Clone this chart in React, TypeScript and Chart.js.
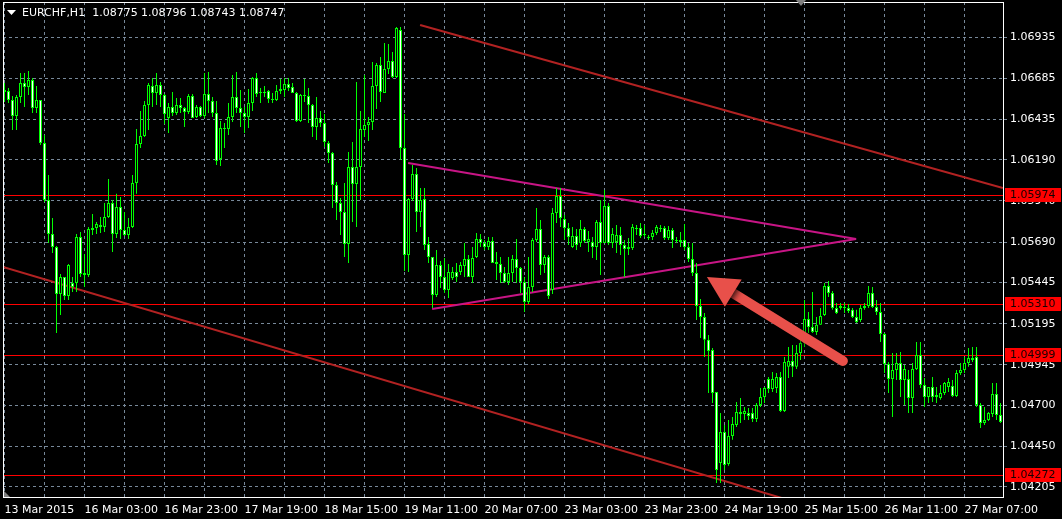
import React, { useEffect, useRef } from 'react';
import { Chart, registerables } from 'chart.js';

Chart.register(...registerables);

// ---- data (EURCHF, H1, bar 0 = 13 Mar 2015 07:00) ----
const openP = [
  1.06614, 1.06608, 1.06553, 1.06456, 1.06571, 1.06656, 1.06632, 1.06674, 1.06504, 1.06553,
  1.06292, 1.05946, 1.05740, 1.05661, 1.05376, 1.05479, 1.05363, 1.05442, 1.05442, 1.05721,
  1.05503, 1.05491, 1.05776, 1.05776, 1.05794, 1.05782, 1.05843, 1.05928, 1.05740, 1.05904,
  1.05764, 1.05734, 1.05782, 1.06049, 1.06286, 1.06335, 1.06523, 1.06638, 1.06595, 1.06644,
  1.06583, 1.06444, 1.06511, 1.06474, 1.06523, 1.06504, 1.06480, 1.06577, 1.06450, 1.06511,
  1.06456, 1.06589, 1.06547, 1.06474, 1.06195, 1.06383, 1.06377, 1.06450, 1.06571, 1.06504,
  1.06474, 1.06450, 1.06535, 1.06687, 1.06595, 1.06602, 1.06608, 1.06559, 1.06553, 1.06608,
  1.06614, 1.06650, 1.06632, 1.06595, 1.06426, 1.06583, 1.06577, 1.06523, 1.06389, 1.06444,
  1.06413, 1.06292, 1.06231, 1.06037, 1.05928, 1.05873, 1.05679, 1.06146, 1.06043, 1.06146,
  1.06371, 1.06401, 1.06419, 1.06638, 1.06765, 1.06595, 1.06741, 1.06790, 1.06693, 1.06978,
  1.06262, 1.05612, 1.05952, 1.06104, 1.05873, 1.05952, 1.05679, 1.05600, 1.05370, 1.05552,
  1.05479, 1.05400, 1.05473, 1.05509, 1.05509, 1.05546, 1.05588, 1.05479, 1.05600, 1.05709,
  1.05685, 1.05661, 1.05697, 1.05558, 1.05558, 1.05503, 1.05448, 1.05503, 1.05588, 1.05533,
  1.05448, 1.05327, 1.05418, 1.05703, 1.05770, 1.05552, 1.05600, 1.05400, 1.05867, 1.05970,
  1.05831, 1.05776, 1.05661, 1.05727, 1.05685, 1.05770, 1.05691, 1.05691, 1.05661, 1.05812,
  1.05685, 1.05910, 1.05685, 1.05691, 1.05734, 1.05673, 1.05648, 1.05654, 1.05776, 1.05776,
  1.05734, 1.05721, 1.05721, 1.05746, 1.05776, 1.05776, 1.05715, 1.05764, 1.05703, 1.05691,
  1.05703, 1.05661, 1.05588, 1.05503, 1.05303, 1.05236, 1.05097, 1.05036, 1.04781, 1.04350,
  1.04538, 1.04344, 1.04514, 1.04580, 1.04659, 1.04647, 1.04653, 1.04653, 1.04617, 1.04702,
  1.04750, 1.04859, 1.04799, 1.04805, 1.04872, 1.04665, 1.04933, 1.04969, 1.04933, 1.05017,
  1.05078, 1.05224, 1.05175, 1.05145, 1.05188, 1.05248, 1.05424, 1.05382, 1.05291, 1.05291,
  1.05297, 1.05291, 1.05279, 1.05236, 1.05218, 1.05291, 1.05303, 1.05382, 1.05297, 1.05266,
  1.05133, 1.04951, 1.04859, 1.04914, 1.04957, 1.04853, 1.04859, 1.04744, 1.04920, 1.05005,
  1.04823, 1.04750, 1.04811, 1.04762, 1.04744, 1.04775, 1.04811, 1.04817, 1.04756, 1.04896,
  1.04914, 1.04957, 1.04987, 1.04993, 1.04702, 1.04592, 1.04611, 1.04647, 1.04768, 1.04641,
];

const highP = [
  1.06656, 1.06626, 1.06577, 1.06583, 1.06717, 1.06717, 1.06729, 1.06687, 1.06638, 1.06553,
  1.06341, 1.06098, 1.05837, 1.05667, 1.05497, 1.05479, 1.05558, 1.05479, 1.05740, 1.05752,
  1.05618, 1.05782, 1.05861, 1.05812, 1.05843, 1.05928, 1.06073, 1.05946, 1.05984, 1.05964,
  1.05873, 1.05837, 1.06098, 1.06377, 1.06486, 1.06547, 1.06656, 1.06687, 1.06717, 1.06662,
  1.06589, 1.06535, 1.06602, 1.06565, 1.06565, 1.06511, 1.06589, 1.06589, 1.06523, 1.06517,
  1.06717, 1.06723, 1.06571, 1.06547, 1.06426, 1.06413, 1.06535, 1.06705, 1.06723, 1.06614,
  1.06511, 1.06620, 1.06693, 1.06717, 1.06626, 1.06638, 1.06614, 1.06595, 1.06644, 1.06681,
  1.06687, 1.06687, 1.06656, 1.06602, 1.06589, 1.06681, 1.06626, 1.06529, 1.06571, 1.06486,
  1.06468, 1.06304, 1.06237, 1.06055, 1.05958, 1.06049, 1.06237, 1.06298, 1.06662, 1.06486,
  1.06705, 1.06450, 1.06784, 1.06778, 1.06814, 1.06899, 1.06893, 1.06844, 1.06996, 1.06996,
  1.06468, 1.05958, 1.06158, 1.06140, 1.06019, 1.06019, 1.05721, 1.05600, 1.05642, 1.05576,
  1.05594, 1.05558, 1.05540, 1.05564, 1.05570, 1.05685, 1.05612, 1.05661, 1.05746, 1.05740,
  1.05703, 1.05721, 1.05721, 1.05630, 1.05600, 1.05540, 1.05600, 1.05612, 1.05709, 1.05540,
  1.05479, 1.05600, 1.05715, 1.05897, 1.05825, 1.05612, 1.05612, 1.05897, 1.06019, 1.06019,
  1.05855, 1.05806, 1.05782, 1.05770, 1.05825, 1.05782, 1.05758, 1.05721, 1.05825, 1.05946,
  1.06007, 1.05928, 1.05776, 1.05794, 1.05782, 1.05703, 1.05715, 1.05800, 1.05794, 1.05806,
  1.05794, 1.05734, 1.05764, 1.05794, 1.05794, 1.05788, 1.05788, 1.05776, 1.05721, 1.05752,
  1.05800, 1.05685, 1.05685, 1.05564, 1.05345, 1.05260, 1.05127, 1.05048, 1.04781, 1.04653,
  1.04580, 1.04611, 1.04629, 1.04720, 1.04744, 1.04690, 1.04684, 1.04684, 1.04714, 1.04805,
  1.04811, 1.04872, 1.04902, 1.04896, 1.04902, 1.04993, 1.05054, 1.05066, 1.05066, 1.05097,
  1.05339, 1.05266, 1.05388, 1.05236, 1.05291, 1.05442, 1.05454, 1.05394, 1.05321, 1.05321,
  1.05321, 1.05315, 1.05291, 1.05279, 1.05309, 1.05321, 1.05424, 1.05418, 1.05339, 1.05321,
  1.05139, 1.04963, 1.05017, 1.05017, 1.05023, 1.04945, 1.04914, 1.04957, 1.05084, 1.05084,
  1.04865, 1.04811, 1.04872, 1.04811, 1.04823, 1.04841, 1.04865, 1.04853, 1.04914, 1.04957,
  1.04993, 1.05048, 1.05054, 1.05054, 1.04714, 1.04690, 1.04659, 1.04835, 1.04835, 1.04714,
];

const lowP = [
  1.06541, 1.06535, 1.06371, 1.06371, 1.06535, 1.06511, 1.06583, 1.06474, 1.06474, 1.06280,
  1.05934, 1.05685, 1.05624, 1.05139, 1.05248, 1.05339, 1.05339, 1.05388, 1.05388, 1.05479,
  1.05418, 1.05479, 1.05734, 1.05740, 1.05746, 1.05752, 1.05837, 1.05630, 1.05715, 1.05709,
  1.05727, 1.05709, 1.05776, 1.05984, 1.06262, 1.06328, 1.06371, 1.06511, 1.06523, 1.06511,
  1.06407, 1.06353, 1.06456, 1.06462, 1.06474, 1.06389, 1.06468, 1.06444, 1.06444, 1.06450,
  1.06444, 1.06474, 1.06450, 1.06158, 1.06152, 1.06262, 1.06341, 1.06419, 1.06474, 1.06389,
  1.06353, 1.06383, 1.06486, 1.06571, 1.06535, 1.06571, 1.06535, 1.06535, 1.06547, 1.06589,
  1.06571, 1.06608, 1.06595, 1.06419, 1.06419, 1.06541, 1.06413, 1.06328, 1.06310, 1.06389,
  1.06268, 1.06171, 1.05897, 1.05825, 1.05734, 1.05600, 1.05564, 1.05812, 1.05782, 1.05946,
  1.06328, 1.06304, 1.06371, 1.06498, 1.06541, 1.06595, 1.06711, 1.06687, 1.06687, 1.06189,
  1.05515, 1.05509, 1.05940, 1.05752, 1.05782, 1.05642, 1.05564, 1.05291, 1.05357, 1.05412,
  1.05382, 1.05351, 1.05460, 1.05448, 1.05491, 1.05479, 1.05479, 1.05442, 1.05594, 1.05661,
  1.05642, 1.05642, 1.05564, 1.05460, 1.05442, 1.05442, 1.05430, 1.05448, 1.05442, 1.05382,
  1.05266, 1.05315, 1.05388, 1.05691, 1.05491, 1.05503, 1.05345, 1.05376, 1.05806, 1.05782,
  1.05703, 1.05673, 1.05654, 1.05642, 1.05661, 1.05685, 1.05630, 1.05594, 1.05582, 1.05491,
  1.05685, 1.05673, 1.05654, 1.05624, 1.05612, 1.05479, 1.05612, 1.05642, 1.05734, 1.05715,
  1.05721, 1.05703, 1.05703, 1.05734, 1.05752, 1.05703, 1.05703, 1.05654, 1.05685, 1.05661,
  1.05642, 1.05570, 1.05485, 1.05218, 1.05109, 1.04993, 1.04775, 1.04714, 1.04228, 1.04228,
  1.04307, 1.04332, 1.04490, 1.04568, 1.04592, 1.04611, 1.04611, 1.04598, 1.04598, 1.04690,
  1.04714, 1.04775, 1.04781, 1.04775, 1.04659, 1.04659, 1.04865, 1.04872, 1.04920, 1.04975,
  1.05054, 1.05139, 1.05139, 1.05127, 1.05188, 1.05242, 1.05357, 1.05279, 1.05254, 1.05279,
  1.05260, 1.05260, 1.05230, 1.05200, 1.05206, 1.05279, 1.05291, 1.05291, 1.05248, 1.05084,
  1.04896, 1.04775, 1.04629, 1.04853, 1.04750, 1.04702, 1.04653, 1.04653, 1.04914, 1.04805,
  1.04690, 1.04714, 1.04720, 1.04714, 1.04733, 1.04762, 1.04781, 1.04750, 1.04750, 1.04884,
  1.04896, 1.04933, 1.04963, 1.04690, 1.04562, 1.04580, 1.04605, 1.04629, 1.04611, 1.04592,
];

const closeP = [
  1.06602, 1.06553, 1.06456, 1.06571, 1.06656, 1.06632, 1.06674, 1.06504, 1.06553, 1.06292,
  1.05946, 1.05740, 1.05661, 1.05376, 1.05479, 1.05363, 1.05552, 1.05418, 1.05721, 1.05497,
  1.05491, 1.05770, 1.05764, 1.05800, 1.05782, 1.05843, 1.05928, 1.05740, 1.05904, 1.05764,
  1.05734, 1.05782, 1.06049, 1.06286, 1.06335, 1.06523, 1.06644, 1.06595, 1.06644, 1.06583,
  1.06468, 1.06511, 1.06474, 1.06523, 1.06504, 1.06480, 1.06577, 1.06444, 1.06511, 1.06456,
  1.06589, 1.06547, 1.06474, 1.06183, 1.06383, 1.06377, 1.06450, 1.06571, 1.06504, 1.06474,
  1.06450, 1.06535, 1.06687, 1.06589, 1.06602, 1.06595, 1.06559, 1.06553, 1.06608, 1.06620,
  1.06650, 1.06626, 1.06595, 1.06426, 1.06583, 1.06577, 1.06523, 1.06389, 1.06444, 1.06413,
  1.06298, 1.06231, 1.06037, 1.05928, 1.05873, 1.05679, 1.06146, 1.06043, 1.06146, 1.06377,
  1.06401, 1.06419, 1.06638, 1.06765, 1.06602, 1.06741, 1.06790, 1.06693, 1.06990, 1.06262,
  1.05612, 1.05952, 1.06104, 1.05873, 1.05946, 1.05673, 1.05600, 1.05370, 1.05552, 1.05479,
  1.05400, 1.05509, 1.05509, 1.05479, 1.05552, 1.05588, 1.05479, 1.05594, 1.05709, 1.05685,
  1.05661, 1.05697, 1.05564, 1.05570, 1.05503, 1.05448, 1.05503, 1.05588, 1.05533, 1.05448,
  1.05327, 1.05418, 1.05703, 1.05770, 1.05552, 1.05600, 1.05363, 1.05867, 1.05970, 1.05837,
  1.05776, 1.05721, 1.05727, 1.05673, 1.05770, 1.05697, 1.05709, 1.05661, 1.05812, 1.05685,
  1.05910, 1.05685, 1.05740, 1.05734, 1.05673, 1.05648, 1.05661, 1.05782, 1.05770, 1.05727,
  1.05740, 1.05715, 1.05746, 1.05782, 1.05770, 1.05715, 1.05764, 1.05703, 1.05697, 1.05703,
  1.05661, 1.05588, 1.05503, 1.05303, 1.05236, 1.05097, 1.05030, 1.04775, 1.04307, 1.04538,
  1.04338, 1.04514, 1.04586, 1.04659, 1.04647, 1.04665, 1.04635, 1.04617, 1.04702, 1.04750,
  1.04805, 1.04799, 1.04859, 1.04872, 1.04665, 1.04963, 1.04969, 1.04933, 1.05017, 1.05078,
  1.05224, 1.05175, 1.05145, 1.05188, 1.05242, 1.05424, 1.05382, 1.05291, 1.05260, 1.05303,
  1.05291, 1.05272, 1.05236, 1.05206, 1.05291, 1.05303, 1.05382, 1.05297, 1.05266, 1.05133,
  1.04951, 1.04859, 1.04914, 1.04957, 1.04853, 1.04920, 1.04744, 1.04920, 1.05005, 1.04823,
  1.04750, 1.04811, 1.04750, 1.04750, 1.04775, 1.04835, 1.04841, 1.04756, 1.04896, 1.04914,
  1.04957, 1.04987, 1.04975, 1.04702, 1.04592, 1.04611, 1.04653, 1.04768, 1.04641, 1.04598,
];

// x axis: one tick label every 20 bars, grid every 10 bars
const timeLabels = [
  '13 Mar 2015', '16 Mar 03:00', '16 Mar 23:00', '17 Mar 19:00', '18 Mar 15:00',
  '19 Mar 11:00', '20 Mar 07:00', '23 Mar 03:00', '23 Mar 23:00', '24 Mar 19:00',
  '25 Mar 15:00', '26 Mar 11:00', '27 Mar 07:00',
];
const gridBars = [0, 10, 20, 30, 40, 50, 60, 70, 80, 90, 100, 110, 120, 130, 140, 150, 160, 170, 180, 190, 200, 210, 220, 230, 240];
const priceTicks = [1.04205, 1.0445, 1.047, 1.04945, 1.05195, 1.05445, 1.0569, 1.0594, 1.0619, 1.06435, 1.06685, 1.06935];
const priceMin = 1.04143;
const priceMax = 1.07148;
const barMin = -0.375;
const barMax = 249.625;

// horizontal levels and drawn objects (bar index, price)
const levelPrices = [1.05974, 1.0531, 1.04999, 1.04272];
const channelUpper = [[103.9, 1.07008], [249.6, 1.06019]];
const channelLower = [[-0.375, 1.05539], [200, 1.04096]];
const triangleUpper = [[100.9, 1.06171], [212.9, 1.05709]];
const triangleLower = [[106.9, 1.05284], [212.9, 1.05709]];
const arrowTail = [209.6, 1.04969];
const arrowTip = [175.6, 1.05479];
const titleText = 'EURCHF,H1  1.08775 1.08796 1.08743 1.08747';

const FONT = '"DejaVu Sans", sans-serif';

const toPts = (arr: number[][]) => arr.map(([x, y]) => ({ x, y }));

const decorPlugin = {
  id: 'mtDecor',
  beforeDatasetsDraw(chart: any) {
    const { ctx, chartArea: a, scales } = chart;
    ctx.save();
    ctx.strokeStyle = '#ff0000';
    ctx.lineWidth = 1;
    levelPrices.forEach((p) => {
      const py = Math.floor(scales.y.getPixelForValue(p)) + 0.5;
      ctx.beginPath();
      ctx.moveTo(a.left, py);
      ctx.lineTo(a.right, py);
      ctx.stroke();
    });
    ctx.restore();
  },
  afterDatasetsDraw(chart: any) {
    const { ctx, scales } = chart;
    const tx = scales.x.getPixelForValue(arrowTip[0]);
    const ty = scales.y.getPixelForValue(arrowTip[1]);
    const sx = scales.x.getPixelForValue(arrowTail[0]);
    const sy = scales.y.getPixelForValue(arrowTail[1]);
    const ang = Math.atan2(ty - sy, tx - sx);
    const c = Math.cos(ang);
    const s = Math.sin(ang);
    const headLen = 31;
    const headHalf = 16;
    const bx = tx - headLen * c;
    const by = ty - headLen * s;
    ctx.save();
    ctx.shadowColor = 'rgba(0,0,0,0.8)';
    ctx.shadowBlur = 6;
    ctx.shadowOffsetX = 2;
    ctx.shadowOffsetY = 2;
    ctx.fillStyle = '#e8504a';
    ctx.strokeStyle = '#e8504a';
    ctx.lineWidth = 10;
    ctx.lineCap = 'round';
    ctx.beginPath();
    ctx.moveTo(sx, sy);
    ctx.lineTo(bx + 3 * c, by + 3 * s);
    ctx.stroke();
    ctx.beginPath();
    ctx.moveTo(tx, ty);
    ctx.lineTo(bx - headHalf * s, by + headHalf * c);
    ctx.lineTo(bx + headHalf * s, by - headHalf * c);
    ctx.closePath();
    ctx.fill();
    ctx.restore();
  },
  afterDraw(chart: any) {
    const { ctx, chartArea: a, scales } = chart;
    ctx.save();
    // frame
    ctx.strokeStyle = '#ffffff';
    ctx.lineWidth = 1;
    ctx.strokeRect(a.left + 0.5, a.top + 0.5, a.right - a.left, a.bottom - a.top);
    // price boxes on the axis
    ctx.font = `11px ${FONT}`;
    ctx.textBaseline = 'middle';
    ctx.textAlign = 'left';
    levelPrices.forEach((p) => {
      const row = Math.floor(scales.y.getPixelForValue(p));
      ctx.fillStyle = '#ff0000';
      ctx.fillRect(a.right + 2, row - 7, 56, 14);
      ctx.fillStyle = '#1a0000';
      ctx.fillText(p.toFixed(5), a.right + 7, row + 0.5);
    });
    // title
    ctx.fillStyle = '#ffffff';
    ctx.beginPath();
    ctx.moveTo(7, 10);
    ctx.lineTo(16, 10);
    ctx.lineTo(11.5, 15);
    ctx.closePath();
    ctx.fill();
    ctx.fillText(titleText, 22, 13);
    // chart-shift markers
    ctx.fillStyle = '#808080';
    ctx.beginPath();
    ctx.moveTo(796, 0);
    ctx.lineTo(806, 0);
    ctx.lineTo(801, 6);
    ctx.closePath();
    ctx.fill();
    ctx.beginPath();
    ctx.moveTo(a.left + 1, a.bottom - 6);
    ctx.lineTo(a.left + 1, a.bottom);
    ctx.lineTo(a.left + 7, a.bottom);
    ctx.closePath();
    ctx.fill();
    ctx.restore();
  },
};

export default function App() {
  const ref = useRef<HTMLCanvasElement>(null);

  useEffect(() => {
    if (!ref.current) return;
    const wickData = highP.map((h, i) => ({ x: i, y: [lowP[i], h] }));
    const bodyData = openP.map((o, i) => ({ x: i, y: [Math.min(o, closeP[i]), Math.max(o, closeP[i])] }));
    const bodyColors = openP.map((o, i) => (closeP[i] < o ? '#ffffff' : '#000000'));

    const lineDs = (pts: number[][], color: string, width: number) => ({
      type: 'line',
      data: toPts(pts),
      borderColor: color,
      borderWidth: width,
      pointRadius: 0,
      fill: false,
      tension: 0,
      order: 2,
    });

    const chart = new Chart(ref.current, {
      type: 'bar',
      data: {
        datasets: [
          {
            type: 'bar',
            data: wickData,
            backgroundColor: '#00ff00',
            borderWidth: 0,
            barThickness: 1,
            grouped: false,
            inflateAmount: 0,
            order: 1,
          },
          {
            type: 'bar',
            data: bodyData,
            backgroundColor: bodyColors,
            borderColor: '#00ff00',
            borderWidth: 1,
            borderSkipped: false,
            barThickness: 3,
            minBarLength: 1,
            grouped: false,
            inflateAmount: 0,
            order: 0,
          },
          lineDs(channelUpper, '#b22222', 2),
          lineDs(channelLower, '#b22222', 2),
          lineDs(triangleUpper, '#c71585', 2),
          lineDs(triangleLower, '#c71585', 2),
        ] as any,
      },
      options: {
        responsive: false,
        animation: false,
        devicePixelRatio: 1,
        events: [],
        layout: { padding: { top: 2, left: 3, right: 0, bottom: 0 }, autoPadding: false },
        plugins: { legend: { display: false }, tooltip: { enabled: false }, title: { display: false } },
        scales: {
          x: {
            type: 'linear',
            min: barMin,
            max: barMax,
            offset: false,
            afterBuildTicks: (s: any) => {
              s.ticks = gridBars.map((v) => ({ value: v }));
            },
            afterFit: (s: any) => {
              s.height = 22;
              s.paddingLeft = 0;
              s.paddingRight = 0;
            },
            ticks: {
              color: '#ffffff',
              font: { family: FONT, size: 11 },
              autoSkip: false,
              maxRotation: 0,
              minRotation: 0,
              align: 'start',
              padding: 7,
              callback: (v: any) => (Number(v) % 20 === 0 ? timeLabels[Number(v) / 20] : ''),
            },
            grid: { color: '#778899', lineWidth: 1, drawTicks: false, offset: false },
            border: { display: false, dash: [3, 3] },
          },
          y: {
            type: 'linear',
            position: 'right',
            min: priceMin,
            max: priceMax,
            afterBuildTicks: (s: any) => {
              s.ticks = priceTicks.map((v) => ({ value: v }));
            },
            afterFit: (s: any) => {
              s.width = 59;
              s.paddingTop = 0;
              s.paddingBottom = 0;
            },
            ticks: {
              color: '#ffffff',
              font: { family: FONT, size: 11 },
              autoSkip: false,
              padding: 3,
              callback: (v: any) => Number(v).toFixed(5),
            },
            grid: { color: '#778899', lineWidth: 1, tickLength: 4, tickColor: '#778899' },
            border: { display: false, dash: [3, 3] },
          },
        },
      } as any,
      plugins: [decorPlugin],
    });
    return () => chart.destroy();
  }, []);

  return (
    <div style={{ position: 'fixed', left: 0, top: 0, width: 1062, height: 519, background: '#000000' }}>
      <canvas ref={ref} width={1062} height={519} style={{ display: 'block' }} />
    </div>
  );
}
